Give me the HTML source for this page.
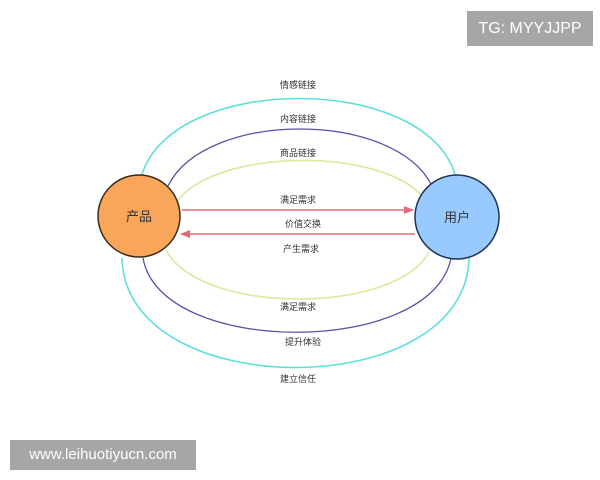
<!DOCTYPE html>
<html><head><meta charset="utf-8"><style>
body{margin:0;width:600px;height:480px;background:#fff;overflow:hidden;position:relative;font-family:"Liberation Sans","Noto Sans CJK SC",sans-serif}
.wm{position:absolute;background:#a6a6a6;color:#fff;font-family:"Liberation Sans",sans-serif}
</style></head><body>
<svg width="600" height="480" style="position:absolute;left:0;top:0">
<defs>
<marker id="ah" markerWidth="10" markerHeight="8" refX="9" refY="4" orient="auto" markerUnits="userSpaceOnUse"><path d="M0,0 L10,4 L0,8 Z" fill="#e06c7a"/></marker>
</defs>
<g fill="none">
<path d="M141,178 C168,72 430,72 456,178" stroke="#5ee0d8" stroke-width="1.6"/>
<path d="M122,258 C125,404 466,404 469,258" stroke="#5ee0d8" stroke-width="1.6"/>
<path d="M168,186 C205,110 395,110 432,186" stroke="#5a4fa6" stroke-width="1.3"/>
<path d="M143,258 C160,357 432,357 451,258" stroke="#5a4fa6" stroke-width="1.3"/>
<path d="M178,200 C220,148 380,148 422,196" stroke="#d6ec9a" stroke-width="1.6"/>
<path d="M166,250 C200,315 395,315 429,252" stroke="#d6ec9a" stroke-width="1.6"/>
</g>
<line x1="182" y1="210" x2="413" y2="210" stroke="#e06c7a" stroke-width="1.5" marker-end="url(#ah)"/>
<line x1="415" y1="234" x2="181" y2="234" stroke="#e06c7a" stroke-width="1.5" marker-end="url(#ah)"/>
<circle cx="139" cy="216" r="41" fill="#f9a65a" stroke="#3a2a1a" stroke-width="1.5"/>
<circle cx="457" cy="217" r="42" fill="#99caff" stroke="#1e3450" stroke-width="1.5"/>
<g font-family="Liberation Sans, Noto Sans CJK SC, sans-serif" fill="#333" text-anchor="middle">
<text x="139" y="221" font-size="13">产品</text>
<text x="457" y="222" font-size="13">用户</text>
<g font-size="9">
<text x="298" y="88">情感链接</text>
<text x="298" y="122">内容链接</text>
<text x="298" y="156">商品链接</text>
<text x="298" y="203">满足需求</text>
<text x="303" y="227">价值交换</text>
<text x="301" y="252">产生需求</text>
<text x="298" y="310">满足需求</text>
<text x="303" y="345">提升体验</text>
<text x="298" y="382">建立信任</text>
</g></g>
</svg>
<div class="wm" style="left:467px;top:11px;width:126px;height:35px;line-height:35px;font-size:16px;text-align:center">TG: MYYJJPP</div>
<div class="wm" style="left:10px;top:440px;width:186px;height:30px;line-height:30px;font-size:15px;text-align:center">www.leihuotiyucn.com</div>
</body></html>
